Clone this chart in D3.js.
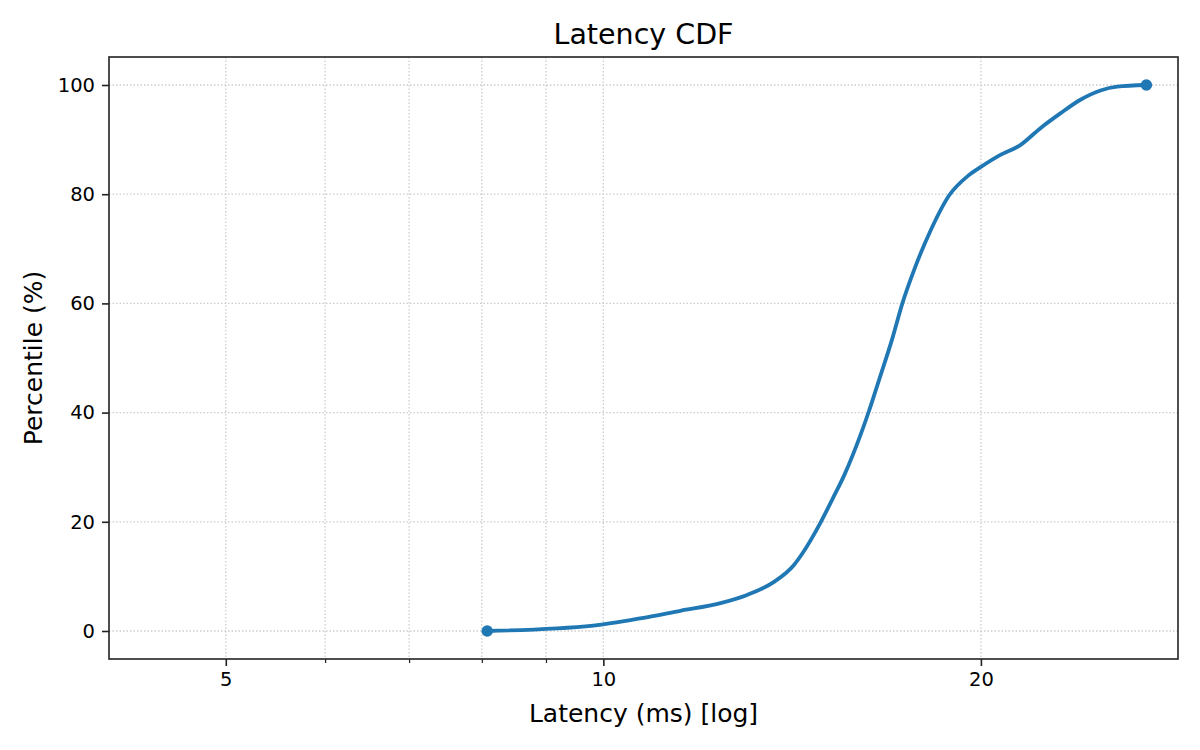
<!DOCTYPE html>
<html>
<head>
<meta charset="utf-8">
<script src="https://cdn.jsdelivr.net/npm/d3@7"></script>
<style>
html,body{margin:0;padding:0;background:#fff;}
text{font-family:"DejaVu Sans",sans-serif;fill:#000;}
</style>
</head>
<body>
<svg id="chart" width="1200" height="750"></svg>
<script>
// Data
const latencyMs = [8.08, 9.82, 10.70, 11.52, 12.40, 13.02, 13.68, 14.19, 14.41, 14.91, 15.24, 15.56, 16.04, 16.28, 16.59, 17.00, 17.32, 17.69, 18.24, 18.87, 19.54, 20.0, 20.73, 21.50, 22.31, 23.14, 24.01, 24.91, 25.68, 27.10];
const percentile = [0, 1.0, 2.3, 3.7, 5.1, 6.6, 9.0, 12.1, 14.2, 20.0, 24.3, 28.5, 36.0, 40.2, 46.0, 53.6, 60.1, 66.1, 73.4, 79.8, 83.4, 85.0, 87.2, 89.0, 92.1, 94.8, 97.3, 99.0, 99.7, 100];
const xMajorTicks = [5, 10, 20];
const xMinorTicks = [6, 7, 8, 9];
const yTicks = [0, 20, 40, 60, 80, 100];
const titleText = "Latency CDF";
const xLabelText = "Latency (ms) [log]";
const yLabelText = "Percentile (%)";

(function () {
const svg = d3.select("#chart");
const mL = 109, mR = 1178, mT = 57, mB = 659;

const x = d3.scaleLog().domain([4.035, 28.72]).range([mL, mR]);
const y = d3.scaleLinear().domain([-5.13, 105.13]).range([mB, mT]);

const gridColor = "#cccccc";
const grid = svg.append("g");
grid.selectAll("line.vx").data(xMajorTicks.concat(xMinorTicks)).join("line")
  .attr("x1", d => x(d)).attr("x2", d => x(d)).attr("y1", mT).attr("y2", mB)
  .attr("stroke", gridColor).attr("stroke-width", 1.3).attr("stroke-dasharray", "1.5,2");
grid.selectAll("line.hy").data(yTicks).join("line")
  .attr("x1", mL).attr("x2", mR).attr("y1", d => y(d)).attr("y2", d => y(d))
  .attr("stroke", gridColor).attr("stroke-width", 1.3).attr("stroke-dasharray", "1.5,2");

const pts = latencyMs.map((v, i) => [v, percentile[i]]);
svg.append("path").datum(pts)
  .attr("fill", "none").attr("stroke", "#1f77b4").attr("stroke-width", 3.8)
  .attr("stroke-linejoin", "round").attr("stroke-linecap", "round")
  .attr("d", d3.line().x(d => x(d[0])).y(d => y(d[1])).curve(d3.curveMonotoneX));
svg.selectAll("circle.end").data([pts[0], pts[pts.length - 1]]).join("circle")
  .attr("cx", d => x(d[0])).attr("cy", d => y(d[1])).attr("r", 5.8)
  .attr("fill", "#1f77b4");

const xAxis = d3.axisBottom(x).tickValues(xMajorTicks).tickFormat(d3.format("d")).tickSize(7).tickPadding(6);
const gx = svg.append("g").attr("transform", `translate(0,${mB})`).call(xAxis);
const xMinor = d3.axisBottom(x).tickValues(xMinorTicks).tickFormat("").tickSize(4);
const gxm = svg.append("g").attr("transform", `translate(0,${mB})`).call(xMinor);
const yAxis = d3.axisLeft(y).tickValues(yTicks).tickSize(7).tickPadding(7);
const gy = svg.append("g").attr("transform", `translate(${mL},0)`).call(yAxis);
[gx, gxm, gy].forEach(g => {
  g.select(".domain").remove();
  g.selectAll("line").attr("stroke", "#222").attr("stroke-width", 1.6);
  g.selectAll("text").style("font-size", "19.5px").attr("fill", "#000");
});
gxm.selectAll("line").attr("stroke-width", 1.2);

svg.append("rect").attr("x", mL).attr("y", mT).attr("width", mR - mL).attr("height", mB - mT)
  .attr("fill", "none").attr("stroke", "#222").attr("stroke-width", 1.6);

svg.append("text").attr("x", (mL + mR) / 2).attr("y", 44).attr("text-anchor", "middle")
  .style("font-size", "28.5px").text(titleText);
svg.append("text").attr("x", (mL + mR) / 2).attr("y", 722).attr("text-anchor", "middle")
  .style("font-size", "25px").text(xLabelText);
svg.append("text").attr("transform", `translate(42,${(mT + mB) / 2}) rotate(-90)`).attr("text-anchor", "middle")
  .style("font-size", "25px").text(yLabelText);
})();
</script>
</body>
</html>
